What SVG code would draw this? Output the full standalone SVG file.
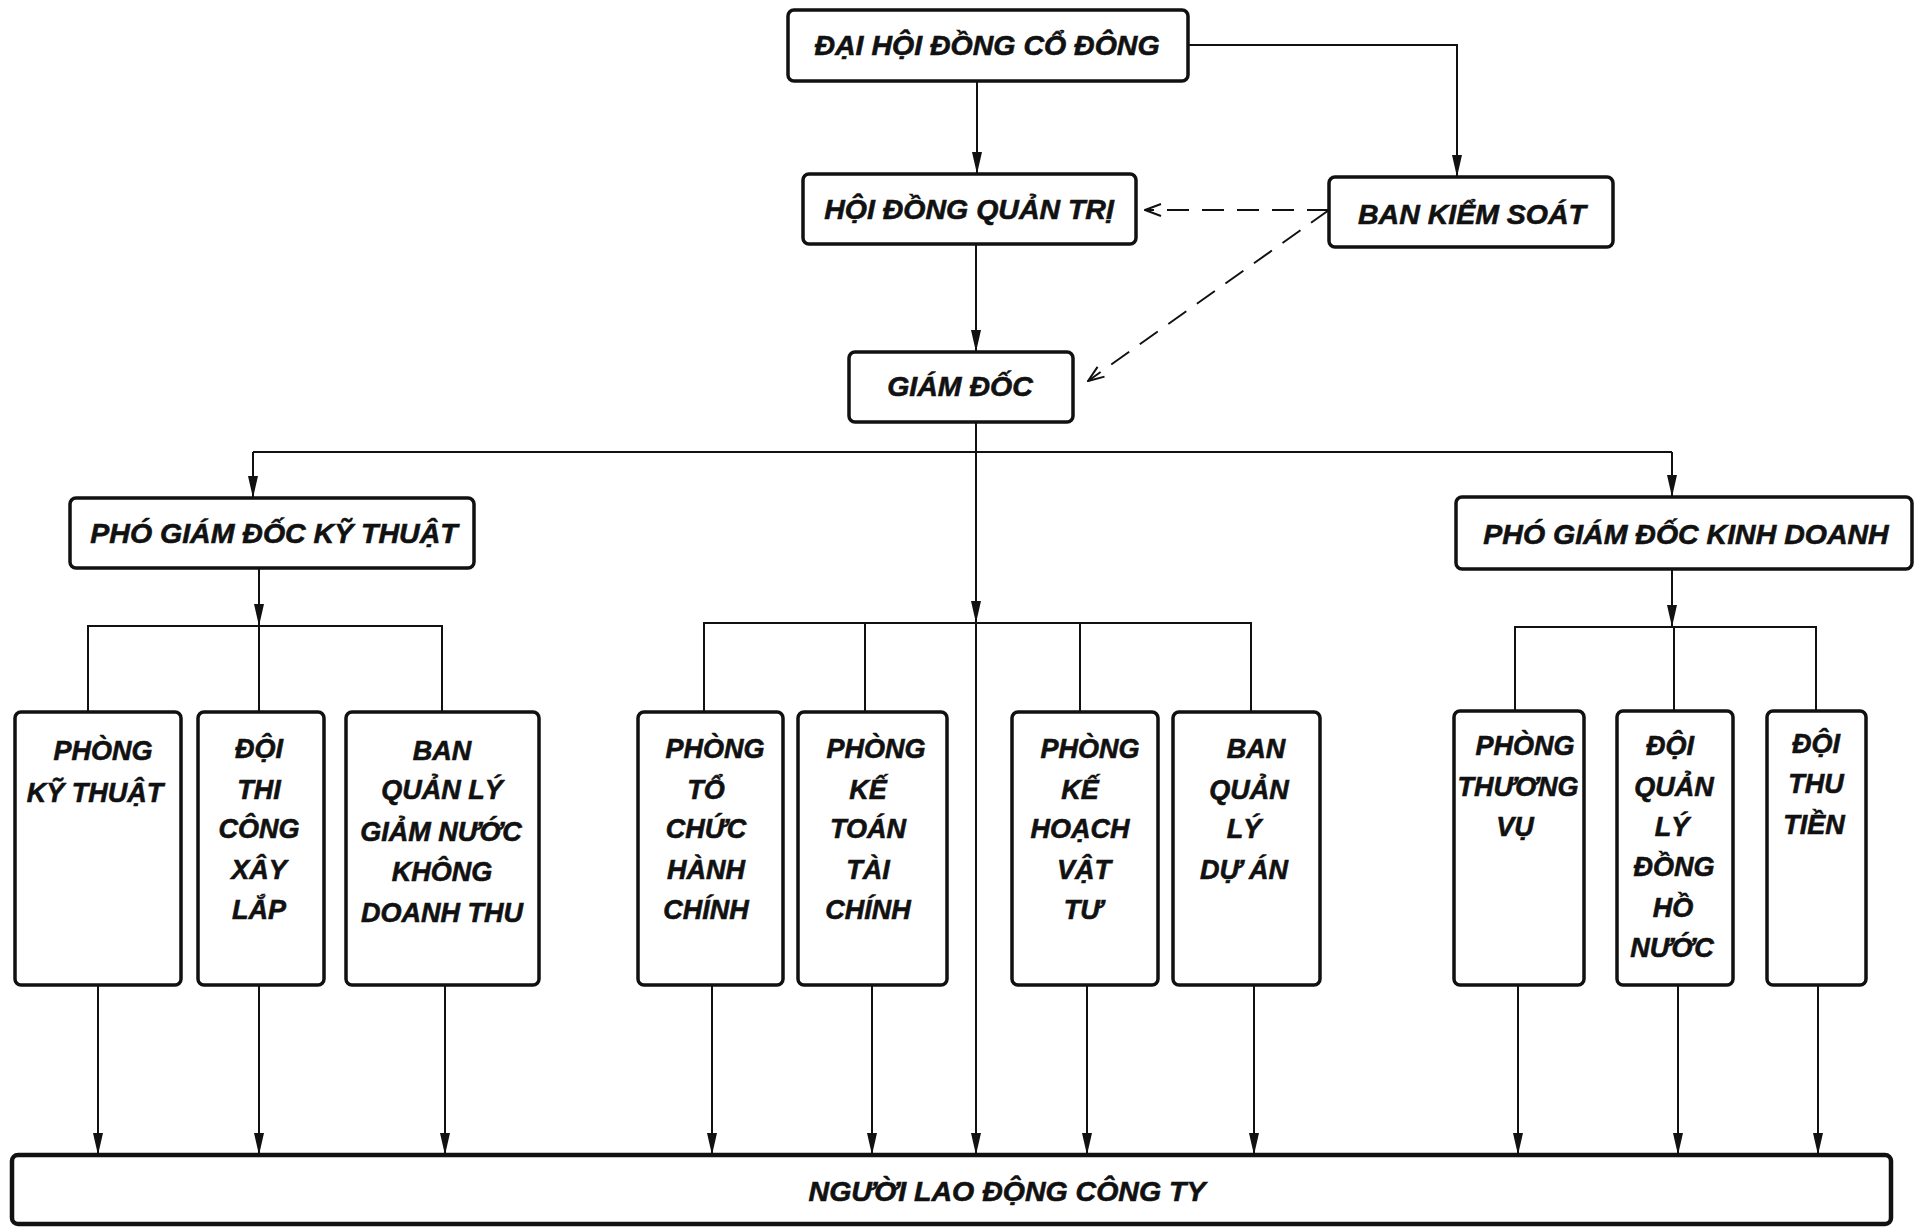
<svg xmlns="http://www.w3.org/2000/svg" width="1916" height="1227" viewBox="0 0 1916 1227">
<style>
.box{fill:#fff;stroke:#111;stroke-width:3.5}
.t{font-family:"Liberation Sans",Arial,sans-serif;font-weight:bold;font-style:italic;font-size:27px;fill:#111;stroke:#111;stroke-width:0.6;text-anchor:middle}
.h{font-size:28.5px}
.c{fill:none;stroke:#111;stroke-width:2}
.d{fill:none;stroke:#111;stroke-width:2;stroke-dasharray:22 13}
</style>
<defs>
<marker id="ah" viewBox="0 0 22 10" refX="22" refY="5" markerWidth="22" markerHeight="10" markerUnits="userSpaceOnUse" orient="auto"><path d="M0,0 L22,5 L0,10 z" fill="#111"/></marker>
<marker id="oh" viewBox="0 0 18 14" refX="17" refY="7" markerWidth="18" markerHeight="14" markerUnits="userSpaceOnUse" orient="auto"><path d="M1,1 L17,7 L1,13" fill="none" stroke="#111" stroke-width="2"/></marker>
</defs>
<rect width="1916" height="1227" fill="#fff"/>
<g id="connectors">
<path class="c" d="M1188,45 H1457 V177" marker-end="url(#ah)"/>
<path class="c" d="M977,81 V174" marker-end="url(#ah)"/>
<path class="c" d="M976,244 V352" marker-end="url(#ah)"/>
<path class="d" d="M1329,210 H1145" marker-end="url(#oh)"/>
<path class="d" d="M1329,210 L1088,381" marker-end="url(#oh)"/>
<path class="c" d="M976,422 V623" marker-end="url(#ah)"/>
<path class="c" d="M976,623 V1155" marker-end="url(#ah)"/>
<path class="c" d="M253,452 H1672"/>
<path class="c" d="M253,452 V498" marker-end="url(#ah)"/>
<path class="c" d="M1672,452 V497" marker-end="url(#ah)"/>
<path class="c" d="M259,568 V626" marker-end="url(#ah)"/>
<path class="c" d="M88,712 V626 H442 V712 M259,626 V712"/>
<path class="c" d="M704,712 V623 H1251 V712 M865,623 V712 M1080,623 V712"/>
<path class="c" d="M1672,569 V627" marker-end="url(#ah)"/>
<path class="c" d="M1515,711 V627 H1816 V711 M1674,627 V711"/>
<path class="c" d="M98,985 V1155" marker-end="url(#ah)"/>
<path class="c" d="M259,985 V1155" marker-end="url(#ah)"/>
<path class="c" d="M445,985 V1155" marker-end="url(#ah)"/>
<path class="c" d="M712,985 V1155" marker-end="url(#ah)"/>
<path class="c" d="M872,985 V1155" marker-end="url(#ah)"/>
<path class="c" d="M1087,985 V1155" marker-end="url(#ah)"/>
<path class="c" d="M1254,985 V1155" marker-end="url(#ah)"/>
<path class="c" d="M1518,985 V1155" marker-end="url(#ah)"/>
<path class="c" d="M1678,985 V1155" marker-end="url(#ah)"/>
<path class="c" d="M1818,985 V1155" marker-end="url(#ah)"/>
</g>
<g id="dhdcd"><rect class="box" x="788" y="10" width="400" height="71" rx="6"/><text class="t h" x="987" y="55">ĐẠI HỘI ĐỒNG CỔ ĐÔNG</text></g>
<g id="hdqt"><rect class="box" x="803" y="174" width="333" height="70" rx="6"/><text class="t h" x="969" y="219">HỘI ĐỒNG QUẢN TRỊ</text></g>
<g id="bks"><rect class="box" x="1329" y="177" width="284" height="70" rx="6"/><text class="t h" x="1472" y="224">BAN KIỂM SOÁT</text></g>
<g id="gd"><rect class="box" x="849" y="352" width="224" height="70" rx="6"/><text class="t h" x="960" y="396">GIÁM ĐỐC</text></g>
<g id="pgdkt"><rect class="box" x="70" y="498" width="404" height="70" rx="6"/><text class="t h" x="274" y="543">PHÓ GIÁM ĐỐC KỸ THUẬT</text></g>
<g id="pgdkd"><rect class="box" x="1456" y="497" width="456" height="72" rx="6"/><text class="t h" x="1686" y="544">PHÓ GIÁM ĐỐC KINH DOANH</text></g>
<g id="pkt"><rect class="box" x="15" y="712" width="166" height="273" rx="6"/><text class="t"><tspan x="103" y="760">PHÒNG</tspan><tspan x="95" y="802">KỸ THUẬT</tspan></text></g>
<g id="dtc"><rect class="box" x="198" y="712" width="126" height="273" rx="6"/><text class="t"><tspan x="259" y="758">ĐỘI</tspan><tspan x="259" y="799">THI</tspan><tspan x="259" y="838">CÔNG</tspan><tspan x="259" y="879">XÂY</tspan><tspan x="259" y="919">LẮP</tspan></text></g>
<g id="bqlgn"><rect class="box" x="346" y="712" width="193" height="273" rx="6"/><text class="t"><tspan x="442" y="760">BAN</tspan><tspan x="442" y="799">QUẢN LÝ</tspan><tspan x="441" y="841">GIẢM NƯỚC</tspan><tspan x="442" y="881">KHÔNG</tspan><tspan x="442" y="922">DOANH THU</tspan></text></g>
<g id="ptchc"><rect class="box" x="638" y="712" width="145" height="273" rx="6"/><text class="t"><tspan x="715" y="758">PHÒNG</tspan><tspan x="706" y="799">TỔ</tspan><tspan x="706" y="838">CHỨC</tspan><tspan x="706" y="879">HÀNH</tspan><tspan x="706" y="919">CHÍNH</tspan></text></g>
<g id="pktc"><rect class="box" x="798" y="712" width="149" height="273" rx="6"/><text class="t"><tspan x="876" y="758">PHÒNG</tspan><tspan x="868" y="799">KẾ</tspan><tspan x="868" y="838">TOÁN</tspan><tspan x="868" y="879">TÀI</tspan><tspan x="868" y="919">CHÍNH</tspan></text></g>
<g id="pkhvt"><rect class="box" x="1012" y="712" width="146" height="273" rx="6"/><text class="t"><tspan x="1090" y="758">PHÒNG</tspan><tspan x="1080" y="799">KẾ</tspan><tspan x="1080" y="838">HOẠCH</tspan><tspan x="1084" y="879">VẬT</tspan><tspan x="1083" y="919">TƯ</tspan></text></g>
<g id="bqlda"><rect class="box" x="1173" y="712" width="147" height="273" rx="6"/><text class="t"><tspan x="1256" y="758">BAN</tspan><tspan x="1249" y="799">QUẢN</tspan><tspan x="1244" y="838">LÝ</tspan><tspan x="1244" y="879">DỰ ÁN</tspan></text></g>
<g id="ptv"><rect class="box" x="1454" y="711" width="130" height="274" rx="6"/><text class="t"><tspan x="1525" y="755">PHÒNG</tspan><tspan x="1518" y="796">THƯƠNG</tspan><tspan x="1515" y="836">VỤ</tspan></text></g>
<g id="dqldhn"><rect class="box" x="1617" y="711" width="116" height="274" rx="6"/><text class="t"><tspan x="1670" y="755">ĐỘI</tspan><tspan x="1674" y="796">QUẢN</tspan><tspan x="1672" y="836">LÝ</tspan><tspan x="1674" y="876">ĐỒNG</tspan><tspan x="1673" y="917">HỒ</tspan><tspan x="1672" y="957">NƯỚC</tspan></text></g>
<g id="dtt"><rect class="box" x="1767" y="711" width="99" height="274" rx="6"/><text class="t"><tspan x="1816" y="753">ĐỘI</tspan><tspan x="1816" y="793">THU</tspan><tspan x="1814" y="834">TIỀN</tspan></text></g>
<g id="nld"><rect class="box" x="12" y="1155" width="1879" height="69" rx="6" style="stroke-width:4.5"/><text class="t h" x="1007" y="1201">NGƯỜI LAO ĐỘNG CÔNG TY</text></g>
</svg>
